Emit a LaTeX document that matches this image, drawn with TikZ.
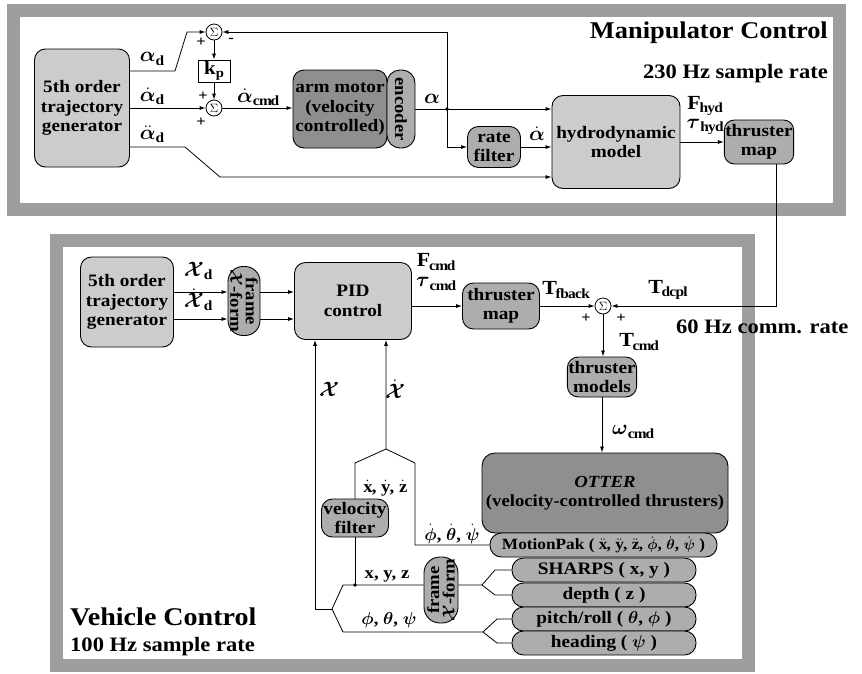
\documentclass[tikz,border=0pt]{standalone}
\usepackage{amsmath}
\usepackage{fontspec}
\setmainfont{Liberation Serif}[FakeStretch=1.1]
\usetikzlibrary{arrows.meta,calc}
\definecolor{lightf}{gray}{0.80}
\definecolor{midf}{gray}{0.68}
\definecolor{darkf}{gray}{0.56}
\definecolor{framef}{gray}{0.62}
\newcommand{\ba}{\boldsymbol{\alpha}}
\newcommand{\bX}{\boldsymbol{\mathcal{X}}}
\begin{document}
\begin{tikzpicture}[x=1pt,y=-1pt,
  blk/.style={draw, line width=0.9pt, rounded corners=11pt, align=center, inner sep=1pt,
    font=\bfseries\fontsize{17.5}{19.5}\selectfont},
  sens/.style={blk, fill=midf, rounded corners=11.5pt, minimum height=24, minimum width=184,
    font=\bfseries\fontsize{17.5}{17}\selectfont},
  sumn/.style={draw, circle, line width=0.8pt, fill=white, minimum size=16, inner sep=0pt,
    font=\fontsize{12}{12}\selectfont},
  arr/.style={line width=0.8pt, -{Latex[length=6pt,width=4pt]}},
  ln/.style={line width=0.8pt},
  lbl/.style={font=\bfseries\fontsize{20}{20}\selectfont, inner sep=0pt},
  slbl/.style={font=\bfseries\fontsize{17}{17}\selectfont, inner sep=0pt},
  sgn/.style={font=\bfseries\fontsize{15}{15}\selectfont, inner sep=0pt},
  frm/.style={draw=framef, line width=13pt},
  rtxt/.style={align=center, font=\bfseries\fontsize{17}{15.5}\selectfont, inner sep=0pt}
]
\useasboundingbox (0,0) rectangle (862,673);
% frames
\draw[frm] (13.5,10) rectangle (839.5,209);
\draw[frm] (56.5,240.5) rectangle (748.5,665.5);

% ---------- Manipulator control ----------
\node[blk, fill=lightf, minimum width=95, minimum height=118] (tg1) at (82,108) {5th order\\trajectory\\generator};
\node[sumn] (s1) at (214,32) {$\Sigma$};
\node[draw, fill=white, line width=0.9pt, minimum width=32, minimum height=22, inner sep=0pt,
  font=\bfseries\fontsize{19}{19}\selectfont] (kp) at (214,71) {k$_{\mathbf p}$};
\node[sumn] (s2) at (214,108) {$\Sigma$};
\node[blk, fill=darkf, minimum width=94, minimum height=78] (arm) at (340,109) {arm motor\\(velocity\\controlled)};
\node[blk, fill=midf, minimum width=28, minimum height=78, rounded corners=13pt] (enc) at (401,109) {};
\node[rtxt, rotate=-90] (enct) at (enc.center) {encoder};
\node[blk, fill=midf, minimum width=53, minimum height=41] (rate) at (494,147) {rate\\filter};
\node[blk, fill=lightf, minimum width=128, minimum height=93] (hydro) at (616,142) {hydrodynamic\\model};
\node[blk, fill=midf, minimum width=42, minimum height=44, rounded corners=10pt] (tmap1) at (759,142) {thruster\\map};

\node[font=\bfseries\fontsize{24}{24}\selectfont, anchor=east, inner sep=0pt] (t1) at (828,33) {Manipulator Control};
\node[font=\bfseries\fontsize{20.5}{20}\selectfont, anchor=east, inner sep=0pt] (t2) at (828,74) {230 Hz sample rate};

\coordinate (a1) at (175,71); \coordinate (a2) at (187,32);
\draw[arr] (tg1.east |- a1) -- (a1) -- (a2) -- (s1.west);
\draw[arr] (tg1.east |- s2) -- (s2.west);
\coordinate (b1) at (185,147); \coordinate (b2) at (220,177);
\draw[arr] (tg1.east |- b1) -- (b1) -- (b2) -- (hydro.west |- b2);
\draw[arr] (s1) -- (kp);
\draw[arr] (kp) -- (s2);
\draw[arr] (s2) -- (arm.west |- s2);
\coordinate (j1) at (447,109);
\draw[ln] (enc.east) -- (j1);
\draw[arr] (j1) -- (hydro.west |- j1);
\draw[arr] (j1) |- (s1.east);
\draw[arr] (j1) |- (rate.west);
\fill (j1) circle (1.8);
\draw[arr] (rate.east) -- (hydro.west |- rate.east);
\draw[arr] (hydro.east |- tmap1.west) -- (tmap1.west);

\node[lbl] (la1) at (152,59) {$\ba_{\mathbf d}$};
\node[lbl] (la2) at (152,96) {$\dot\ba_{\mathbf d}$};
\node[lbl] (la3) at (152,134) {$\ddot\ba_{\mathbf d}$};
\node[sgn] (sg1) at (201,42) {+};
\node[sgn] (sg2) at (231,40) {-};
\node[sgn] (sg3) at (203,96) {+};
\node[sgn] (sg4) at (201,122) {+};
\node[lbl] (la4) at (258,97) {$\dot\ba_{\mathbf{cmd}}$};
\node[lbl] (la5) at (432,99) {$\ba$};
\node[lbl] (la6) at (537,134) {$\dot\ba$};
\node[lbl] (la7) at (705,106) {$\mathbf F_{\mathbf{hyd}}$};
\node[lbl] (la8) at (705,127) {$\boldsymbol\tau_{\mathbf{hyd}}$};

% ---------- Vehicle control ----------
\node[blk, fill=lightf, minimum width=93, minimum height=90] (tg2) at (127,302) {5th order\\trajectory\\generator};
\node[blk, fill=midf, minimum width=32, minimum height=69, rounded corners=15pt] (fx1) at (244,301) {};
\node[rtxt, rotate=-90] (fx1t) at (fx1.center) {frame\\$\bX$-form};
\node[blk, fill=lightf, minimum width=117, minimum height=77] (pid) at (353,301) {PID\\control};
\node[blk, fill=midf, minimum width=77, minimum height=46] (tmap2) at (501,306) {thruster\\map};
\node[sumn] (s3) at (603,306) {$\Sigma$};
\node[blk, fill=midf, minimum width=66, minimum height=40] (tmod) at (602,377) {thruster\\models};
\node[blk, fill=darkf, minimum width=246, minimum height=80, rounded corners=13pt, font=\bfseries\fontsize{17}{19.5}\selectfont] (otter) at (605,493) {\textit{OTTER}\\(velocity-controlled thrusters)};
\node[sens, minimum width=227, font=\bfseries\fontsize{15.7}{15}\selectfont] (mp) at (603.5,545) {MotionPak ( $\ddot{\mathbf x}$, $\ddot{\mathbf y}$, $\ddot{\mathbf z}$, $\dot{\boldsymbol\phi}$, $\dot{\boldsymbol\theta}$, $\dot{\boldsymbol\psi}$ )};
\node[sens] (sharps) at (604,570) {SHARPS ( x, y )};
\node[sens] (depth) at (604,595) {depth ( z )};
\node[sens] (pitch) at (604,619) {pitch/roll ( $\boldsymbol\theta$, $\boldsymbol\phi$ )};
\node[sens] (heading) at (604,643) {heading ( $\boldsymbol\psi$ )};
\node[blk, fill=midf, minimum width=67, minimum height=38] (vf) at (355,518) {velocity\\filter};
\node[blk, fill=midf, minimum width=34, minimum height=66, rounded corners=16pt] (fx2) at (441,590) {};
\node[rtxt, rotate=90] (fx2t) at (fx2.center) {frame\\$\bX$-form};

\node[font=\bfseries\fontsize{25.5}{25}\selectfont, anchor=west, inner sep=0pt] (t3) at (70,617) {Vehicle Control};
\node[font=\bfseries\fontsize{20.5}{20}\selectfont, anchor=west, inner sep=0pt] (t4) at (70,647) {100 Hz sample rate};
\node[font=\bfseries\fontsize{20.5}{20}\selectfont, anchor=west, inner sep=0pt] (t5) at (676,327) {60 Hz comm. rate};

\coordinate (yA) at (0,292); \coordinate (yB) at (0,319);
\draw[arr] (tg2.east |- yA) -- (fx1.west |- yA);
\draw[arr] (tg2.east |- yB) -- (fx1.west |- yB);
\draw[arr] (fx1.east |- yA) -- (pid.west |- yA);
\draw[arr] (fx1.east |- yB) -- (pid.west |- yB);
\draw[arr] (pid.east |- tmap2.west) -- (tmap2.west);
\draw[arr] (tmap2.east) -- (s3.west);
\coordinate (d1) at (776,306);
\draw[arr] (tmap1.south -| d1) -- (d1) -- (s3.east);
\draw[arr] (s3.south) -- (s3.south |- tmod.north);
\draw[arr] (tmod.south) -- (tmod.south |- otter.north);

% feedback Xdot
\coordinate (p1) at (386,449); \coordinate (p2) at (355,463);
\coordinate (p3) at (415,463); \coordinate (p4) at (415,545);
\draw[arr] (vf.north) -- (p2) -- (p1) -- (p1 |- pid.south);
\draw[ln] (p1) -- (p3) -- (p4) -- (mp.west);
% feedback X
\coordinate (q1) at (315,609); \coordinate (q2) at (332,609);
\coordinate (q3) at (343,585); \coordinate (q4) at (343,632);
\draw[arr] (q2) -- (q1) -- (q1 |- pid.south);
\draw[ln] (fx2.west |- q3) -- (q3) -- (q2) -- (q4);
\coordinate (r1) at (483,632); \coordinate (r2) at (497,619); \coordinate (r3) at (497,643);
\draw[ln] (q4) -- (r1) -- (r2) -- (pitch.west);
\draw[ln] (r1) -- (r3) -- (heading.west);
\coordinate (u1) at (482,585); \coordinate (u2) at (495,570); \coordinate (u3) at (495,595);
\draw[ln] (fx2.east |- u1) -- (u1) -- (u2) -- (sharps.west);
\draw[ln] (u1) -- (u3) -- (depth.west);
\coordinate (jv) at (355,585);
\draw[ln] (vf.south) -- (jv);
\fill (jv) circle (1.8);

\node[lbl] (lb1) at (198,271) {$\bX_{\mathbf d}$};
\node[lbl] (lb2) at (198,300) {$\dot{\bX}_{\mathbf d}$};
\node[lbl] (lb3) at (436,262) {$\mathbf F_{\mathbf{cmd}}$};
\node[lbl] (lb4) at (436,284) {$\boldsymbol\tau_{\mathbf{cmd}}$};
\node[lbl] (lb5) at (566,290) {$\mathbf T_{\mathbf{fback}}$};
\node[lbl] (lb6) at (668,290) {$\mathbf T_{\mathbf{dcpl}}$};
\node[sgn] (sg5) at (586,318) {+};
\node[sgn] (sg6) at (621,318) {+};
\node[lbl] (lb7) at (639,342) {$\mathbf T_{\mathbf{cmd}}$};
\node[lbl] (lb8) at (633,432) {$\boldsymbol\omega_{\mathbf{cmd}}$};
\node[lbl] (lb9) at (329,389) {$\bX$};
\node[lbl] (lb10) at (395,389) {$\dot{\bX}$};
\node[slbl] (lb11) at (385,488) {$\dot{\mathbf x}$, $\dot{\mathbf y}$, $\dot{\mathbf z}$};
\node[slbl] (lb12) at (452,534) {$\dot{\boldsymbol\phi}$, $\dot{\boldsymbol\theta}$, $\dot{\boldsymbol\psi}$};
\node[slbl] (lb13) at (387,576) {x, y, z};
\node[slbl] (lb14) at (389,620) {$\boldsymbol\phi$, $\boldsymbol\theta$, $\boldsymbol\psi$};
\end{tikzpicture}
\end{document}
